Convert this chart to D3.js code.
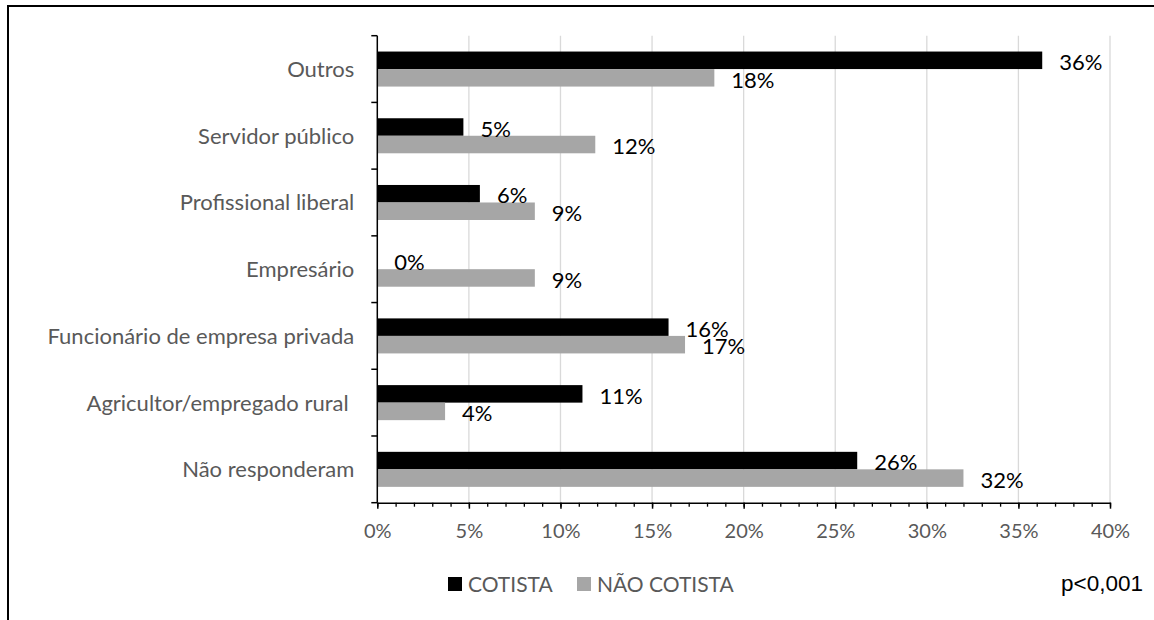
<!DOCTYPE html>
<html>
<head>
<meta charset="utf-8">
<script src="https://cdn.jsdelivr.net/npm/d3@7"></script>
<style>
  html, body { margin: 0; padding: 0; background: #fff; }
  svg { display: block; }
</style>
</head>
<body>
<svg id="chart" width="1154" height="620"></svg>
<script>
// Occupation categories, top to bottom
const categories = [
  "Outros",
  "Servidor público",
  "Profissional liberal",
  "Empresário",
  "Funcionário de empresa privada",
  "Agricultor/empregado rural ",
  "Não responderam"
];
const seriesNames = ["COTISTA", "NÃO COTISTA"];
// Share of respondents (fractions)
const cotista    = [0.363, 0.047, 0.056, 0.000, 0.159, 0.112, 0.262];
const naoCotista = [0.184, 0.119, 0.086, 0.086, 0.168, 0.037, 0.320];
const xTicks = [0, 0.05, 0.10, 0.15, 0.20, 0.25, 0.30, 0.35, 0.40];
const pValueText = "p<0,001";

const colors = ["#000000", "#a6a6a6"];
const font = "Lato, 'Open Sans', sans-serif";
const gray = "#595959";

const rows = categories.map((c, i) => ({ cat: c, vals: [cotista[i], naoCotista[i]] }));

const svg = d3.select("#chart");

// outer frame (right and bottom edges fall outside the page)
svg.append("rect")
  .attr("x", 8).attr("y", 6)
  .attr("width", 1300).attr("height", 800)
  .attr("fill", "none").attr("stroke", "#000").attr("stroke-width", 2);

const plot = { left: 377.3, right: 1110, top: 35.7, bottom: 502.7 };

const x = d3.scaleLinear().domain([0, 0.40]).range([plot.left, plot.right]);
const y = d3.scaleBand().domain(categories)
  .range([plot.top, plot.bottom])
  .paddingInner(0.475).paddingOuter(0.2375);
const ySub = d3.scaleBand().domain(d3.range(seriesNames.length))
  .range([0, y.bandwidth()]);

// vertical gridlines
svg.append("g").selectAll("line")
  .data(xTicks.filter(d => d > 0))
  .join("line")
  .attr("x1", d => x(d)).attr("x2", d => x(d))
  .attr("y1", plot.top).attr("y2", plot.bottom)
  .attr("stroke", "#d9d9d9").attr("stroke-width", 1.3);

// bars
const groups = svg.append("g").selectAll("g")
  .data(rows).join("g")
  .attr("transform", d => `translate(0,${y(d.cat)})`);

groups.selectAll("rect")
  .data(d => d.vals.map((v, k) => ({ v, k })))
  .join("rect")
  .attr("x", x(0))
  .attr("y", d => ySub(d.k))
  .attr("width", d => x(d.v) - x(0))
  .attr("height", ySub.bandwidth())
  .attr("fill", d => colors[d.k]);

// value labels
const pct = d3.format(".0%");
groups.selectAll("text")
  .data(d => d.vals.map((v, k) => ({ v, k })))
  .join("text")
  .attr("x", d => x(d.v) + 17)
  .attr("y", d => ySub(d.k) + ySub.bandwidth() + 1)
  .attr("font-family", font).attr("font-size", 22)
  .attr("fill", "#000")
  .text(d => pct(d.v));

// x axis: minor ticks every 1%, major every 5%
const xAxisG = svg.append("g").attr("transform", `translate(0,${plot.bottom})`);
xAxisG.append("g")
  .call(d3.axisBottom(x).ticks(40).tickSize(4).tickFormat(""))
  .call(g => g.select(".domain").remove())
  .selectAll("line").attr("stroke", "#000").attr("stroke-width", 1.3);
xAxisG.append("g")
  .call(d3.axisBottom(x).tickValues(xTicks).tickSize(6).tickFormat(d3.format(".0%")).tickSizeOuter(0))
  .call(g => g.select(".domain").attr("stroke", "#000").attr("stroke-width", 1.5))
  .call(g => g.selectAll("line").attr("stroke", "#000").attr("stroke-width", 1.5))
  .call(g => g.selectAll("text")
    .attr("y", 35.5).attr("dy", 0)
    .attr("font-family", font).attr("font-size", 20)
    .attr("fill", gray));

// y axis: line with ticks at category boundaries
const yAxisG = svg.append("g");
yAxisG.append("line")
  .attr("x1", plot.left).attr("x2", plot.left)
  .attr("y1", plot.top).attr("y2", plot.bottom)
  .attr("stroke", "#000").attr("stroke-width", 1.5);
const boundaries = categories.map(c => y(c) - y.step() * y.paddingInner() / 2)
  .concat([y.range()[1]]);
yAxisG.selectAll("line.tick")
  .data(boundaries).join("line").attr("class", "tick")
  .attr("x1", plot.left - 6).attr("x2", plot.left)
  .attr("y1", d => d).attr("y2", d => d)
  .attr("stroke", "#000").attr("stroke-width", 1.5);

svg.append("g")
  .attr("transform", `translate(${plot.left},0)`)
  .call(d3.axisLeft(y).tickSize(0).tickPadding(23))
  .call(g => g.select(".domain").remove())
  .call(g => g.selectAll("text")
    .attr("dy", "0.36em")
    .attr("font-family", font).attr("font-size", 22)
    .attr("fill", gray)
    .style("white-space", "pre"));

// legend
const legend = svg.append("g");
const legendX = [448, 577];
seriesNames.forEach((name, k) => {
  legend.append("rect")
    .attr("x", legendX[k]).attr("y", 577)
    .attr("width", 14).attr("height", 14)
    .attr("fill", colors[k]);
  legend.append("text")
    .attr("x", legendX[k] + 20).attr("y", 592)
    .attr("font-family", font).attr("font-size", 21)
    .attr("fill", gray)
    .text(name);
});

// significance note
svg.append("text")
  .attr("x", 1143).attr("y", 591)
  .attr("text-anchor", "end")
  .attr("font-family", "'Liberation Sans', Arial, sans-serif")
  .attr("font-size", 22.5)
  .attr("fill", "#000")
  .text(pValueText);
</script>
</body>
</html>
